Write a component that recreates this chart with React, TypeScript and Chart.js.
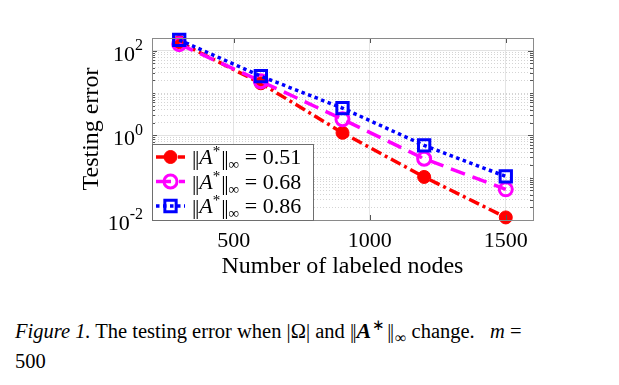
import React, { useEffect, useRef } from "react";
import { Chart, registerables } from "chart.js";

Chart.register(...registerables);

// ---- data ----
const nodes = [300, 600, 900, 1200, 1500];
const err051 = [160, 17, 1.15, 0.104, 0.0115];
const err068 = [143, 19, 2.4, 0.28, 0.053];
const err086 = [180, 25, 4.4, 0.58, 0.107];
const seriesValues = ["0.51", "0.68", "0.86"];
const xTicks = [500, 1000, 1500];
const yMajorTicks = [0.01, 1, 100];
const xMin = 200;
const xMax = 1600;
const yMin = 0.01;
const yMax = 200;

const SERIF = '"Liberation Serif", "Times New Roman", serif';

function yGridValues(): number[] {
  const out: number[] = [];
  for (let e = -2; e <= 2; e++) {
    for (let m = 1; m <= 9; m++) {
      const v = m * Math.pow(10, e);
      if (v >= yMin * 0.999 && v <= yMax * 1.001) out.push(parseFloat(v.toPrecision(6)));
    }
  }
  return out;
}

const isMajorY = (v: number) => yMajorTicks.some((t) => Math.abs(Math.log10(v) - Math.log10(t)) < 1e-6);

const framePlugin = {
  id: "frameAndLabels",
  afterDatasetsDraw(chart: any) {
    const { ctx, chartArea } = chart;
    const { left, right, top, bottom } = chartArea;
    const ys = chart.scales.y;
    const xs = chart.scales.x;
    ctx.save();
    ctx.strokeStyle = "#555";
    ctx.lineWidth = 1;
    ys.ticks.forEach((t: any) => {
      const y = Math.round(ys.getPixelForValue(t.value)) + 0.5;
      const len = isMajorY(t.value) ? 5 : 3;
      ctx.beginPath();
      ctx.moveTo(left, y);
      ctx.lineTo(left + len, y);
      ctx.moveTo(right, y);
      ctx.lineTo(right - len, y);
      ctx.stroke();
    });
    xs.ticks.forEach((t: any) => {
      const x = Math.round(xs.getPixelForValue(t.value)) + 0.5;
      ctx.beginPath();
      ctx.moveTo(x, bottom);
      ctx.lineTo(x, bottom - 5);
      ctx.moveTo(x, top);
      ctx.lineTo(x, top + 5);
      ctx.stroke();
    });
    ctx.strokeStyle = "#8a8a8a";
    ctx.strokeRect(Math.round(left) + 0.5, Math.round(top) + 0.5, Math.round(right - left), Math.round(bottom - top));
    ctx.restore();
  },
  afterDraw(chart: any) {
    const { ctx, chartArea } = chart;
    const ys = chart.scales.y;
    ctx.save();
    ctx.fillStyle = "#000";
    ctx.textBaseline = "middle";
    yMajorTicks.forEach((v) => {
      const y = ys.getPixelForValue(v);
      const exp = String(Math.round(Math.log10(v)));
      ctx.font = `16px ${SERIF}`;
      const ew = ctx.measureText(exp).width;
      ctx.font = `22px ${SERIF}`;
      const bw = ctx.measureText("10").width;
      const xEnd = chartArea.left - 9;
      ctx.textAlign = "left";
      ctx.fillText("10", xEnd - ew - bw, y + 4);
      ctx.font = `16px ${SERIF}`;
      ctx.fillText(exp, xEnd - ew, y - 5);
    });

    // legend
    const x0 = Math.round(chartArea.left);
    const y1 = Math.round(chartArea.bottom);
    const w = 161;
    const h = 76;
    ctx.fillStyle = "#fff";
    ctx.fillRect(x0, y1 - h, w, h);
    ctx.strokeStyle = "#6e6e6e";
    ctx.lineWidth = 1;
    ctx.strokeRect(x0 + 0.5, y1 - h + 0.5, w, h);
    chart.data.datasets.forEach((ds: any, i: number) => {
      const cy = y1 - h + 13 + i * 24.5;
      ctx.save();
      ctx.strokeStyle = ds.borderColor;
      ctx.lineWidth = ds.borderWidth;
      ctx.setLineDash(ds.borderDash || []);
      ctx.beginPath();
      ctx.moveTo(x0 + 4, cy);
      ctx.lineTo(x0 + 33, cy);
      ctx.stroke();
      ctx.setLineDash([]);
      const mx = x0 + 18.5;
      ctx.lineWidth = ds.pointBorderWidth;
      ctx.strokeStyle = ds.pointBorderColor;
      ctx.fillStyle = ds.pointBackgroundColor;
      ctx.beginPath();
      if (ds.pointStyle === "rect") {
        const s = ds.pointRadius * Math.SQRT1_2;
        ctx.rect(mx - s, cy - s, 2 * s, 2 * s);
      } else {
        ctx.arc(mx, cy, ds.pointRadius, 0, Math.PI * 2);
      }
      ctx.fill();
      ctx.stroke();
      ctx.restore();

      ctx.fillStyle = "#000";
      ctx.textAlign = "left";
      ctx.textBaseline = "alphabetic";
      let tx = x0 + 40;
      const base = cy + 7;
      const put = (s: string, font: string, dy: number, adv = 0) => {
        ctx.font = font;
        ctx.fillText(s, tx, base + dy);
        tx += ctx.measureText(s).width + adv;
      };
      put("|", `22px ${SERIF}`, 1, -1.5);
      put("|", `22px ${SERIF}`, 1, 0);
      put("A", `italic 22px ${SERIF}`, 0);
      put("*", `15px ${SERIF}`, -8, 1);
      put("|", `22px ${SERIF}`, 1, -1.5);
      put("|", `22px ${SERIF}`, 1, 0);
      put("∞", `15px ${SERIF}`, 5);
      put(" = " + seriesValues[i], `22px ${SERIF}`, 0);
    });
    ctx.restore();
  },
};

export default function App() {
  const ref = useRef<HTMLCanvasElement | null>(null);

  useEffect(() => {
    if (!ref.current) return;
    const mk = (arr: number[]) => nodes.map((x, i) => ({ x, y: arr[i] }));
    const gridVals = yGridValues();
    const chart = new Chart(ref.current, {
      type: "line",
      data: {
        datasets: [
          {
            label: "0.51",
            data: mk(err051),
            borderColor: "#ff0000",
            backgroundColor: "#ff0000",
            borderWidth: 3.5,
            borderDash: [11, 4, 3, 4],
            pointStyle: "circle",
            pointRadius: 6.5,
            pointBorderWidth: 1,
            pointBorderColor: "#ff0000",
            pointBackgroundColor: "#ff0000",
            order: 3,
            clip: false,
          } as any,
          {
            label: "0.68",
            data: mk(err068),
            borderColor: "#ff00ff",
            backgroundColor: "#ff00ff",
            borderWidth: 3.5,
            borderDash: [15, 8],
            pointStyle: "circle",
            pointRadius: 6.5,
            pointBorderWidth: 3,
            pointBorderColor: "#ff00ff",
            pointBackgroundColor: "rgba(0,0,0,0)",
            order: 2,
            clip: false,
          } as any,
          {
            label: "0.86",
            data: mk(err086),
            borderColor: "#0000ff",
            backgroundColor: "#0000ff",
            borderWidth: 3.5,
            borderDash: [3.5, 3.5],
            pointStyle: "rect",
            pointRadius: 8,
            pointBorderWidth: 3,
            pointBorderColor: "#0000ff",
            pointBackgroundColor: "rgba(0,0,0,0)",
            order: 1,
            clip: false,
          } as any,
        ],
      },
      options: {
        animation: false,
        responsive: false,
        maintainAspectRatio: false,
        layout: { padding: { left: 0, right: 86, top: 38, bottom: 0 } },
        plugins: { legend: { display: false }, tooltip: { enabled: false } },
        elements: { line: { tension: 0 } },
        scales: {
          x: {
            type: "linear",
            min: xMin,
            max: xMax,
            afterBuildTicks: (s: any) => {
              s.ticks = xTicks.map((v) => ({ value: v }));
            },
            afterFit: (s: any) => {
              s.height = 70;
            },
            grid: { color: "#e4e4e4", lineWidth: 1, drawTicks: false },
            border: { display: false },
            ticks: {
              color: "#000",
              font: { family: SERIF, size: 22 },
              padding: 8,
              maxRotation: 0,
              autoSkip: false,
              callback: (v: any) => String(v),
            },
            title: {
              display: true,
              text: "Number of labeled nodes",
              color: "#000",
              font: { family: SERIF, size: 24 },
              padding: { top: 0, bottom: 9 },
            },
          },
          y: {
            type: "logarithmic",
            min: yMin,
            max: yMax,
            afterBuildTicks: (s: any) => {
              s.ticks = gridVals.map((v) => ({ value: v }));
            },
            afterFit: (s: any) => {
              s.width = 152;
            },
            grid: {
              drawTicks: false,
              lineWidth: 1,
              color: (c: any) => (c.tick && isMajorY(c.tick.value) ? "#e2e2e2" : "#d4d4d4"),
            },
            border: {
              display: false,
              dash: (c: any) => (c.tick && isMajorY(c.tick.value) ? [] : [1, 2]),
            },
            ticks: { display: false, autoSkip: false },
            title: {
              display: true,
              text: "Testing error",
              color: "#000",
              font: { family: SERIF, size: 24 },
              padding: { top: 77, bottom: 0 },
            },
          },
        },
      } as any,
      plugins: [framePlugin],
    });
    return () => chart.destroy();
  }, []);

  const supStyle = { fontSize: 15, lineHeight: 0, marginLeft: 1 } as const;
  const subStyle = { fontSize: 16, lineHeight: 0, marginLeft: 1 } as const;
  const bars = { letterSpacing: -1.5, marginRight: 1.5 } as const;

  return (
    <div style={{ position: "absolute", left: 0, top: 0, width: 619, height: 385, background: "#fff" }}>
      <canvas ref={ref} width={619} height={290} style={{ display: "block", width: 619, height: 290 }} />
      <div
        style={{
          position: "absolute",
          left: 15,
          top: 316,
          width: 600,
          fontFamily: SERIF,
          fontSize: 20.5,
          lineHeight: "30px",
          color: "#000",
          whiteSpace: "nowrap",
        }}
      >
        <i>Figure 1.</i> The testing error when |Ω| and <span style={bars}>||</span>
        <b>
          <i style={{ fontSize: 22 }}>A</i>
        </b>
        <sup style={supStyle}>∗</sup>
        <span style={{ ...bars, marginLeft: 2 }}>||</span>
        <sub style={subStyle}>∞</sub> change.&nbsp;&nbsp; <i>m</i> =
        <br />
        500
      </div>
    </div>
  );
}
